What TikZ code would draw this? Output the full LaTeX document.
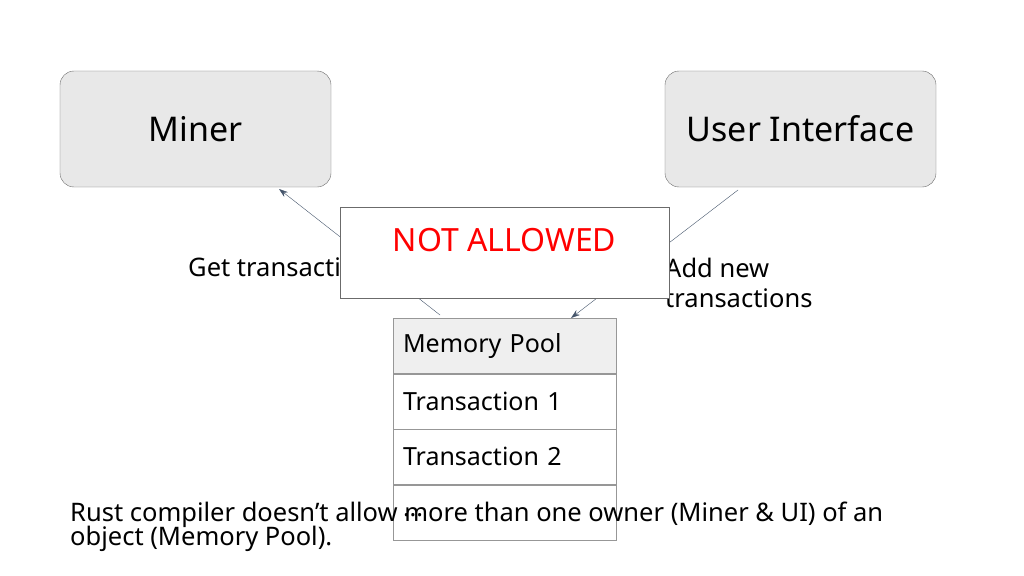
\documentclass[tikz,border=0pt]{standalone}
\usepackage{fontspec}
\setmainfont{Noto Sans}
\usetikzlibrary{arrows.meta,positioning}
\definecolor{boxgray}{HTML}{E8E8E8}
\definecolor{rowgray}{HTML}{EFEFEF}
\definecolor{edgegray}{HTML}{6B6B6B}
\definecolor{linkblue}{HTML}{44546A}
\tikzset{
  actor/.style={draw=edgegray,fill=boxgray,rounded corners=14pt,minimum width=271pt,minimum height=116pt,font=\fontsize{34}{38}\selectfont},
  row/.style={draw=edgegray!70,minimum width=223pt,minimum height=55pt,text width=203pt,align=left,font=\fontsize{25}{28}\selectfont},
  link/.style={draw=linkblue,-{Stealth[length=9pt,width=6pt]}},
  note/.style={font=\fontsize{25.5}{30}\selectfont,align=left,anchor=north west,inner sep=0pt}
}
\begin{document}
\begin{tikzpicture}[x=1pt,y=-1pt]
  \useasboundingbox (0,0) rectangle (1024,575);
  % actors
  \node[actor] (miner) at (195.5,129) {Miner};
  \node[actor] (ui) at (800.5,129) {User Interface};
  % memory pool table
  \node[row,fill=rowgray] (pool) at (504.5,346) {\raisebox{-0.3ex}{Memory Pool}};
  \node[row,below=0pt of pool] (tx1) {Transaction 1};
  \node[row,below=0pt of tx1] (tx2) {Transaction 2};
  \node[row,below=0pt of tx2] (dots) {\raisebox{-0.6ex}{...}};
  % links
  \coordinate (minerend) at (279,189);
  \coordinate (poolstart) at (440,315);
  \coordinate (uistart) at (738,190);
  \coordinate (poolend) at (571,318);
  \draw[link] (poolstart) -- (minerend);
  \draw[link] (uistart) -- (poolend);
  \node[note] (get) at (188,258) {Get transactions};
  \node[note] (add) at (665,258) {Add new\\transactions};
  % forbidden
  \node[draw=edgegray,fill=white,minimum width=329pt,minimum height=91pt] (ban) at (504.5,252.5) {};
  \node[text=red,font=\fontsize{32}{36}\selectfont] (bantext) at (504.5,240) {NOT ALLOWED};
  \node[note] (remark) at (70,502) {Rust compiler doesn’t allow more than one owner (Miner \& UI) of an\\[-6pt]object (Memory Pool).};
\end{tikzpicture}
\end{document}
